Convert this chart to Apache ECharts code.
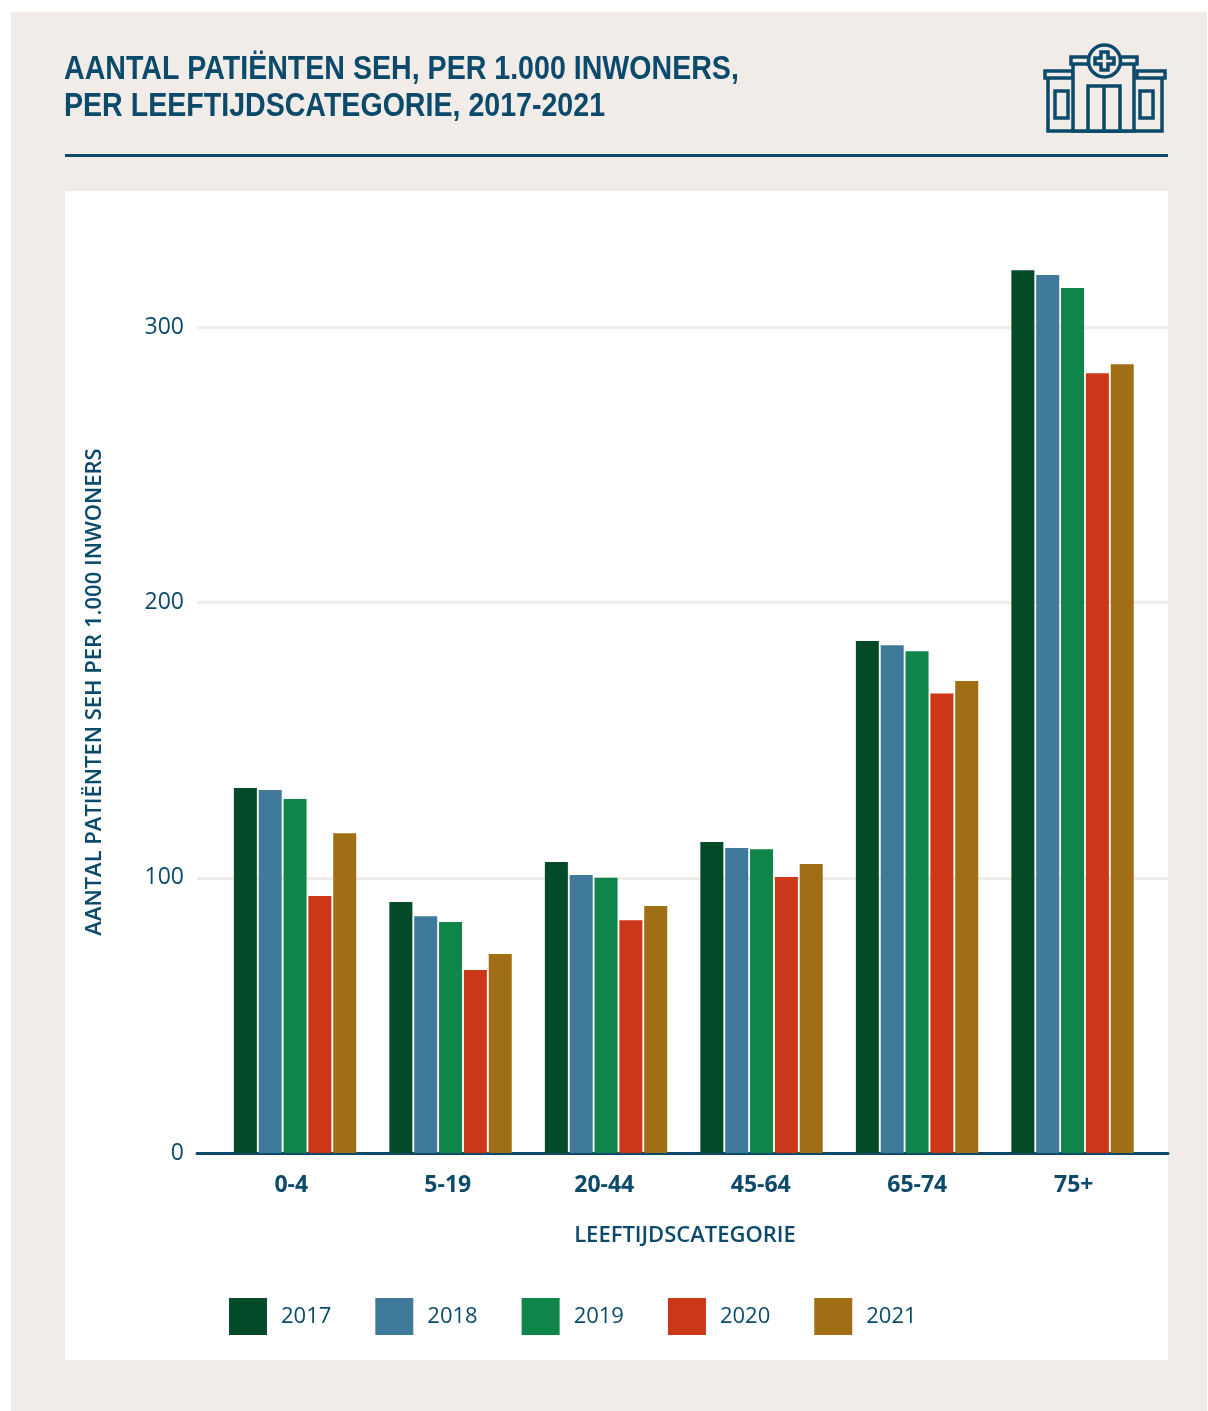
<!DOCTYPE html>
<html><head><meta charset="utf-8">
<style>html,body{margin:0;padding:0;background:#fff}#c{width:1208px;height:1411px}</style>
<script src="https://cdn.jsdelivr.net/npm/echarts@6/dist/echarts.min.js"></script>
</head><body><div id="c"></div>
<script>
const titleText = 'AANTAL PATIËNTEN SEH, PER 1.000 INWONERS,\nPER LEEFTIJDSCATEGORIE, 2017-2021';
const categories = ['0-4','5-19','20-44','45-64','65-74','75+'];
const years = ['2017','2018','2019','2020','2021'];
const v2017 = [132.6, 91.2, 105.7, 113, 186, 320.7];
const v2018 = [131.9, 86, 101, 110.8, 184.5, 319];
const v2019 = [128.6, 83.9, 100, 110.4, 182.3, 314.3];
const v2020 = [93.4, 66.5, 84.6, 100.3, 167, 283.3];
const v2021 = [116.2, 72.3, 89.7, 105, 171.5, 286.6];
const seriesValues = [v2017, v2018, v2019, v2020, v2021];
const colors = ['#034a28','#3f7a9a','#0f8549','#cb3718','#a06f15'];
const INK = '#0b4a6a', BG = '#f1ece8';
const FONT = '"Open Sans", sans-serif';
const TITLE_FONT = '"Liberation Sans", sans-serif';

const iconStroke = {stroke: INK, lineWidth: 3.5, fill: BG};
const rect = (x,y,w,h) => ({type:'rect', shape:{x,y,width:w,height:h}, style:iconStroke, silent:true});
const icon = [
  rect(1048,77,114,54), rect(1045,71,28,7), rect(1137,71,28,7),
  rect(1073,62,61,69), rect(1071,57,66,7),
  {type:'circle', shape:{cx:1104.5,cy:61,r:16}, style:iconStroke, silent:true},
  {type:'polygon', shape:{points:[[1101,52],[1108,52],[1108,58],[1114,58],[1114,64],[1108,64],[1108,70],[1101,70],[1101,64],[1095,64],[1095,58],[1101,58]]}, style:iconStroke, silent:true},
  rect(1088,86,32,45),
  {type:'line', shape:{x1:1104,y1:86,x2:1104,y2:131}, style:{stroke:INK,lineWidth:3.5}, silent:true},
  rect(1055,91,13,27), rect(1140,91,13,27)
];

const chart = echarts.init(document.getElementById('c'), null, {renderer:'canvas'});
chart.setOption({
  animation:false,
  backgroundColor:'#fff',
  graphic:[
    {type:'group', z:-10, silent:true, children:[
      {type:'rect', shape:{x:11,y:12,width:1196,height:1399}, style:{fill:BG}},
      {type:'rect', shape:{x:65,y:191,width:1103,height:1169}, style:{fill:'#fff'}},
      {type:'rect', shape:{x:65,y:154,width:1103,height:3}, style:{fill:INK}}
    ]},
    {type:'text', z:10, silent:true, x:64, y:51, scaleX:0.866,
     style:{text:titleText, fill:INK, font:'bold 33px '+TITLE_FONT, lineHeight:37, textVerticalAlign:'top'}},
    {type:'group', z:10, silent:true, children:icon}
  ],
  legend:{
    left:229, top:1298, padding:0, itemWidth:38, itemHeight:37, itemGap:44, icon:'rect',
    data:years,
    textStyle:{color:INK,fontFamily:FONT,fontSize:22,fontWeight:500,padding:[2,0,0,9]},
    itemStyle:{borderWidth:0}
  },
  grid:[
    {left:217.3, width:933, top:231, height:922},
    {left:197, width:971, top:231, height:922},
    {left:213, width:939, top:231, height:922}
  ],
  xAxis:[
    {type:'category', gridIndex:0, data:categories, show:false},
    {type:'value', gridIndex:1, min:0, max:1, show:true,
     axisLine:{show:true,lineStyle:{color:INK,width:3}},
     axisTick:{show:false}, axisLabel:{show:false}, splitLine:{show:false}},
    {type:'category', gridIndex:2, data:categories,
     axisLine:{show:false}, axisTick:{show:false},
     axisLabel:{color:INK,fontFamily:FONT,fontWeight:'bold',fontSize:23,margin:21},
     name:'LEEFTIJDSCATEGORIE', nameLocation:'middle', nameGap:72,
     nameTextStyle:{color:INK,fontFamily:FONT,fontSize:22,fontWeight:600,padding:[0,0,0,5]}}
  ],
  yAxis:[
    {type:'value', gridIndex:0, min:0, max:335, interval:100, show:false, splitLine:{show:false}},
    {type:'value', gridIndex:1, min:0, max:335, interval:100,
     axisLine:{show:false}, axisTick:{show:false},
     axisLabel:{color:INK,fontFamily:FONT,fontSize:23,fontWeight:500,margin:13,padding:[2,0,0,0],showMaxLabel:false},
     splitLine:{show:true,showMaxLine:false,lineStyle:{color:BG,width:3}},
     name:'AANTAL PATIËNTEN SEH PER 1.000 INWONERS', nameLocation:'middle', nameGap:91,
     nameTextStyle:{color:INK,fontFamily:FONT,fontSize:22,fontWeight:600}},
    {type:'value', gridIndex:2, min:0, max:335, interval:100, show:false, splitLine:{show:false}}
  ],
  series: years.map((y,i)=>({
    type:'bar', name:y, xAxisIndex:0, yAxisIndex:0,
    data:seriesValues[i], barWidth:23, barGap:'8%',
    itemStyle:{color:colors[i]}
  }))
});
</script></body></html>
